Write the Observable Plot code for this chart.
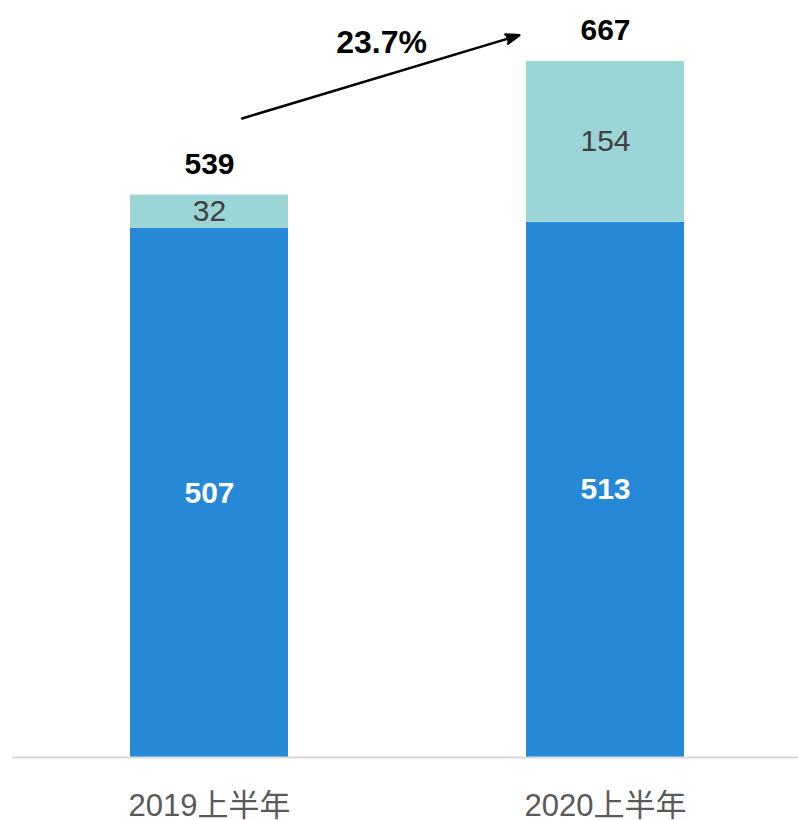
<!DOCTYPE html>
<html>
<head>
<meta charset="utf-8">
<script src="https://cdn.jsdelivr.net/npm/d3@7"></script>
<script src="https://cdn.jsdelivr.net/npm/@observablehq/plot@0.6"></script>
<style>
  html, body { margin: 0; padding: 0; background: #fff; }
  #chart { width: 798px; height: 820px; }
</style>
</head>
<body>
<div id="chart"></div>
<script>
// ---- data ----
const categories = ["2019上半年", "2020上半年"];
const baseValues = [507, 513];
const extraValues = [32, 154];
const totals = [539, 667];
const growthLabel = "23.7%";
// annotation anchors (value units): arrow start/end heights, label height
const arrowYs = [603, 717];
const growthLabelY = 685;

const colors = { base: "#2689D8", extra: "#9BD5D6" };

const rows = [];
categories.forEach((c, i) => {
  rows.push({ cat: c, series: "base", value: baseValues[i] });
  rows.push({ cat: c, series: "extra", value: extraValues[i] });
});
const totalRows = categories.map((c, i) => ({ cat: c, total: totals[i] }));

const font = '"Liberation Sans", Arial, "Noto Sans CJK SC", sans-serif';

const chart = Plot.plot({
  width: 798,
  height: 820,
  marginTop: 61,
  marginBottom: 63,
  marginLeft: 12,
  marginRight: 0,
  style: { fontFamily: font, background: "#fff" },
  x: { domain: categories, paddingInner: 0.6, paddingOuter: 0.29, align: 0.51, label: null },
  y: { domain: [0, 667], axis: null },
  color: { domain: ["base", "extra"], range: [colors.base, colors.extra] },
  marks: [
    Plot.barY(rows, { x: "cat", y: "value", fill: "series", z: "series", order: ["base", "extra"] }),
    Plot.ruleY([0], { stroke: "#d9d9d9", strokeWidth: 2 }),
    Plot.axisX({ tickSize: 0, tickPadding: 36, fontSize: 31, color: "#595959", label: null }),
    Plot.text(rows, Plot.stackY({
      x: "cat", y: "value", z: "series", order: ["base", "extra"],
      text: d => d.series === "base" ? String(d.value) : null,
      fill: "white", fontWeight: "bold", fontSize: 30
    })),
    Plot.text(rows, Plot.stackY({
      x: "cat", y: "value", z: "series", order: ["base", "extra"],
      text: d => d.series === "extra" ? String(d.value) : null,
      fill: "#404040", fontSize: 30
    })),
    Plot.text(totalRows, {
      x: "cat", y: "total", text: d => String(d.total),
      dy: -31, fill: "black", fontWeight: "bold", fontSize: 30
    }),
    Plot.arrow([0], {
      x1: () => categories[0], y1: () => arrowYs[0],
      x2: () => categories[1], y2: () => arrowYs[1],
      insetStart: 34, insetEnd: 90,
      stroke: "black", fill: "black", strokeWidth: 2.5,
      headAngle: 40, headLength: 8.4
    }),
    Plot.text([growthLabel], {
      x: () => categories[0], y: () => growthLabelY, text: d => d,
      dx: 172, fill: "black", fontWeight: "bold", fontSize: 32
    })
  ]
});
document.getElementById("chart").appendChild(chart);
</script>
</body>
</html>
